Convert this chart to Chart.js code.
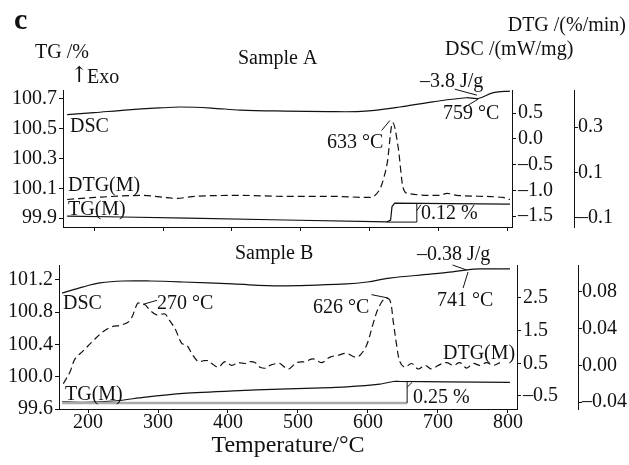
<!DOCTYPE html>
<html>
<head>
<meta charset="utf-8">
<script src="https://cdn.jsdelivr.net/npm/chart.js@4.4.0/dist/chart.umd.min.js"></script>
<style>
  html, body { margin: 0; padding: 0; background: #fff; }
  #wrap { position: relative; width: 629px; height: 465px; }
  canvas { position: absolute; left: 0; top: 0; }
</style>
</head>
<body>
<div id="wrap">
  <canvas id="chartA" width="629" height="465"></canvas>
  <canvas id="chartB" width="629" height="465"></canvas>
</div>
<script>
// ---- data ----
const xTicks = [200, 300, 400, 500, 600, 700, 800];

// Sample A
const tempA_dsc = [161, 200, 250, 300, 325, 370, 412, 477, 540, 581, 607, 643, 691, 740, 757, 779, 803];
const dscA      = [0.47, 0.51, 0.565, 0.605, 0.62, 0.60, 0.56, 0.54, 0.53, 0.53, 0.555, 0.62, 0.72, 0.80, 0.785, 0.90, 0.93];
const tempA_dtg = [161, 201, 270, 320, 346, 415, 473, 542, 600, 615, 620, 625, 633, 641, 648, 655, 701, 712, 726, 793, 803];
const dtgA      = [-0.019, -0.010, -0.001, -0.014, -0.005, -0.001, -0.005, -0.005, -0.010, 0.030, 0.075, 0.140, 0.320, 0.210, 0.034, 0.008, -0.001, 0.008, -0.001, -0.010, -0.019];
const tempA_tg  = [161, 241, 336, 477, 625, 630, 632, 636, 716, 803];
const tgA       = [99.913, 99.907, 99.900, 99.887, 99.875, 99.887, 99.977, 100.0, 99.997, 99.994];
const tgTicksA  = [99.9, 100.1, 100.3, 100.5, 100.7];
const dscTicksA = [-1.5, -1.0, -0.5, 0.0, 0.5];
const dtgTicksA = [-0.1, 0.1, 0.3];

// Sample B
const tempB_dsc = [163, 193, 217, 250, 289, 336, 407, 474, 570, 599, 631, 689, 721, 741, 760, 803];
const dscB      = [2.65, 2.84, 2.96, 3.02, 3.02, 2.99, 2.93, 2.87, 2.93, 2.99, 3.11, 3.23, 3.30, 3.36, 3.39, 3.39];
const tempB_dtg = [164.7, 174.3, 181.4, 193.3, 207.6, 221.9, 233.9, 248.1, 260, 269.6, 271.9, 281.4, 288.6, 298.1, 310, 314.7,
                   324.3, 333.9, 341, 348.1, 357.6, 364.7, 371.9, 376.7, 386.1, 395.7, 405.3, 414.7, 424.3, 431.4, 438.6, 445.7,
                   455.3, 460, 469.6, 474.3, 486.1, 498.1, 510, 521.9, 533.9, 545.7, 557.6, 569.6, 581.4, 588.6, 598.1, 607.6,
                   614.7, 624.3, 631.4, 636.1, 641, 645.7, 652.9, 662.4, 671.9, 681.4, 691, 700.4, 712.4, 721.9, 731.4, 741,
                   750.4, 760, 769.6, 779, 788.6];
const dtgB      = [-0.020, -0.007, 0.007, 0.016, 0.027, 0.037, 0.042, 0.044, 0.049, 0.066, 0.068, 0.066, 0.060, 0.055, 0.056, 0.051,
                   0.040, 0.024, 0.022, 0.013, 0.004, 0.005, 0.005, 0.002, -0.002, 0.004, 0.000, 0.003, 0.002, 0.004, 0.003, -0.002,
                   -0.003, 0.000, 0.002, 0.002, -0.004, 0.003, 0.004, 0.007, 0.003, 0.009, 0.011, 0.013, 0.009, 0.011, 0.022, 0.046,
                   0.062, 0.073, 0.071, 0.048, 0.022, 0.004, -0.002, 0.002, -0.004, 0.000, -0.004, 0.000, 0.003, 0.000, 0.003, -0.003,
                   0.002, 0.000, 0.003, 0.000, 0.003];
const tempB_tg  = [162.9, 193.3, 241, 279, 336.1, 407.6, 474.3, 521.9, 569.6, 617.1, 636.1, 645.7, 712.4, 802.9];
const tgB       = [99.690, 99.682, 99.702, 99.744, 99.793, 99.825, 99.846, 99.858, 99.874, 99.908, 99.941, 99.941, 99.936, 99.929];
const tempB_base = [163, 656];
const tgB_base   = [99.674, 99.674];
const tgTicksB  = [99.6, 100.0, 100.4, 100.8, 101.2];
const dscTicksB = [-0.5, 0.5, 1.5, 2.5];
const dtgTicksB = [-0.04, 0.00, 0.04, 0.08];

// ---- helpers ----
const serif = "'Liberation Serif', 'Times New Roman', serif";
const ink = '#111';
Chart.defaults.font.family = serif;
Chart.defaults.font.size = 20;
Chart.defaults.color = ink;

const pts = (xs, ys) => xs.map((x, i) => ({x: x, y: ys[i]}));
const fmt = (v, d) => v.toFixed(d).replace('-', '\u2013');

function yAxis(pos, min, max, vals, dec, width, pad, weight) {
  return {
    type: 'linear', position: pos, min: min, max: max, weight: weight,
    border: {display: true, color: ink, width: 1},
    grid: {drawOnChartArea: false, drawTicks: true, tickLength: 4, color: ink},
    ticks: {padding: pad, font: {size: 20, lineHeight: 1}, callback: v => fmt(v, dec)},
    afterBuildTicks: s => { s.ticks = vals.map(v => ({value: v})); },
    afterFit: s => { s.width = width; }
  };
}

function xAxis(min, max, labels, height, title) {
  return {
    type: 'linear', position: 'bottom', min: min, max: max,
    border: {display: true, color: ink, width: 1},
    grid: {drawOnChartArea: false, drawTicks: true, tickLength: 4, color: ink},
    ticks: {display: labels, padding: 0, maxRotation: 0, font: {size: 20, lineHeight: 1}, callback: v => String(v)},
    afterBuildTicks: s => { s.ticks = xTicks.map(v => ({value: v})); },
    afterFit: s => { s.height = height; },
    title: title ? {display: true, text: title, font: {size: 24}, color: ink, padding: {top: 0, bottom: 5}} : {display: false}
  };
}

function line(data, axis, opts) {
  return Object.assign({
    data: data, yAxisID: axis, borderColor: ink, borderWidth: 1.2,
    pointRadius: 0, fill: false, tension: 0
  }, opts || {});
}

// texts + leader lines, drawn after the chart
function notes(texts, leaders) {
  return {
    id: 'notes',
    afterDraw(chart) {
      const ctx = chart.ctx, xs = chart.scales.x;
      ctx.save();
      ctx.strokeStyle = ink;
      ctx.lineWidth = 1;
      leaders.forEach(l => {
        const ys = chart.scales[l.axis];
        ctx.beginPath();
        l.pts.forEach((p, i) => {
          const px = xs.getPixelForValue(p[0]), py = ys.getPixelForValue(p[1]);
          if (i) ctx.lineTo(px, py); else ctx.moveTo(px, py);
        });
        ctx.stroke();
      });
      ctx.fillStyle = ink;
      ctx.textBaseline = 'alphabetic';
      texts.forEach(t => {
        ctx.font = (t.bold ? 'bold ' : '') + (t.size || 20) + 'px ' + (t.family || serif);
        ctx.textAlign = t.align || 'left';
        ctx.fillText(t.text, t.x, t.y);
      });
      ctx.restore();
    }
  };
}

// ---- Sample A ----
new Chart(document.getElementById('chartA'), {
  type: 'line',
  data: {
    datasets: [
      line(pts(tempA_dsc, dscA), 'dsc', {tension: 0.35}),
      line(pts(tempA_dtg, dtgA), 'dtg', {borderDash: [7, 4], cubicInterpolationMode: 'monotone'}),
      line(pts(tempA_tg, tgA), 'y')
    ]
  },
  options: {
    responsive: false, animation: false, devicePixelRatio: 1,
    layout: {padding: {top: 90, left: 0, right: 0, bottom: 228}},
    plugins: {legend: {display: false}, tooltip: {enabled: false}},
    scales: {
      x: xAxis(155, 806, false, 10, null),
      y: yAxis('left', 99.84, 100.76, tgTicksA, 1, 63, 2, 0),
      dsc: yAxis('right', -1.71, 0.95, dscTicksA, 1, 62, 2, 1),
      dtg: yAxis('right', -0.14, 0.463, dtgTicksA, 1, 55, 0, 2)
    }
  },
  plugins: [notes([
    {text: 'c', x: 14, y: 29, size: 30, bold: true},
    {text: 'TG /%', x: 35, y: 58},
    {text: '\u2191', x: 70, y: 82, size: 22, family: "'DejaVu Serif', serif"},
    {text: 'Exo', x: 87, y: 83},
    {text: 'Sample A', x: 238, y: 64},
    {text: 'DTG /(%/min)', x: 626, y: 31, align: 'right'},
    {text: 'DSC /(mW/mg)', x: 445, y: 55},
    {text: '\u20133.8 J/g', x: 420, y: 87},
    {text: '759 \u00b0C', x: 443, y: 119},
    {text: '633 \u00b0C', x: 327, y: 148},
    {text: 'DSC', x: 70, y: 132},
    {text: 'DTG(M)', x: 68, y: 191},
    {text: 'TG(M)', x: 68, y: 215},
    {text: '0.12 %', x: 421, y: 219}
  ], [
    {axis: 'dtg', pts: [[617, 0.285], [629, 0.329]]},
    {axis: 'dsc', pts: [[723, 0.966], [755, 0.85]]},
    {axis: 'dsc', pts: [[757, 0.772], [735, 0.597]]},
    {axis: 'y', pts: [[625, 99.873], [668, 99.873], [668, 99.997]]},
    {axis: 'y', pts: [[668, 99.95], [674, 99.99]]}
  ])]
});

// ---- Sample B ----
new Chart(document.getElementById('chartB'), {
  type: 'line',
  data: {
    datasets: [
      line(pts(tempB_base, tgB_base), 'y', {borderColor: '#aaa', borderWidth: 2.5}),
      line(pts(tempB_dsc, dscB), 'dsc', {tension: 0.35}),
      line(pts(tempB_dtg, dtgB), 'dtg', {borderDash: [7, 4], tension: 0.35}),
      line(pts(tempB_tg, tgB), 'y', {tension: 0.2})
    ]
  },
  options: {
    responsive: false, animation: false, devicePixelRatio: 1,
    layout: {padding: {top: 265, left: 0, right: 0, bottom: 0}},
    plugins: {legend: {display: false}, tooltip: {enabled: false}},
    scales: {
      x: xAxis(158.5, 813, true, 56, 'Temperature/\u00b0C'),
      y: yAxis('left', 99.6, 101.385, tgTicksB, 1, 59, 2, 0),
      dsc: yAxis('right', -0.9, 3.51, dscTicksB, 1, 61, 2, 1),
      dtg: yAxis('right', -0.0476, 0.1094, dtgTicksB, 2, 51, 0, 2)
    }
  },
  plugins: [notes([
    {text: 'Sample B', x: 235, y: 259},
    {text: '\u20130.38 J/g', x: 417, y: 260},
    {text: '741 \u00b0C', x: 437, y: 306},
    {text: '626 \u00b0C', x: 313, y: 313},
    {text: '270 \u00b0C', x: 157, y: 309},
    {text: 'DSC', x: 63, y: 309},
    {text: 'DTG(M)', x: 443, y: 359},
    {text: 'TG(M)', x: 65, y: 400},
    {text: '0.25 %', x: 413, y: 403}
  ], [
    {axis: 'dtg', pts: [[278.6, 0.0665], [298.6, 0.0709]]},
    {axis: 'dtg', pts: [[605, 0.0771], [629, 0.0734]]},
    {axis: 'dsc', pts: [[721, 3.51], [741, 3.356]]},
    {axis: 'dsc', pts: [[743, 3.295], [736, 2.806]]},
    {axis: 'y', pts: [[656, 99.674], [656, 99.941]]},
    {axis: 'y', pts: [[656, 99.87], [663, 99.93]]}
  ])]
});
</script>
</body>
</html>
